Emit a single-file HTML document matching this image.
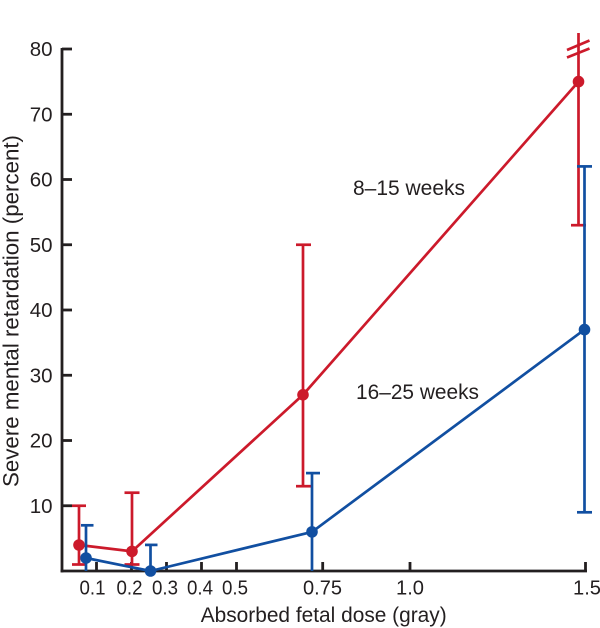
<!DOCTYPE html>
<html>
<head>
<meta charset="utf-8">
<style>
  html, body { margin: 0; padding: 0; background: #ffffff; }
  svg { display: block; }
  text { font-family: "Liberation Sans", Arial, sans-serif; fill: #231f20; }
</style>
</head>
<body>
<svg width="600" height="628" viewBox="0 0 600 628" xmlns="http://www.w3.org/2000/svg">
  <!-- Axes -->
  <g stroke="#231f20" stroke-width="2.8" fill="none" stroke-linecap="butt">
    <line x1="62" y1="48" x2="62" y2="572.4"/>
    <line x1="60.6" y1="571" x2="587" y2="571"/>
    <!-- y ticks -->
    <line x1="62" y1="49" x2="72" y2="49"/>
    <line x1="62" y1="114.25" x2="72" y2="114.25"/>
    <line x1="62" y1="179.5" x2="72" y2="179.5"/>
    <line x1="62" y1="244.75" x2="72" y2="244.75"/>
    <line x1="62" y1="310" x2="72" y2="310"/>
    <line x1="62" y1="375.25" x2="72" y2="375.25"/>
    <line x1="62" y1="440.5" x2="72" y2="440.5"/>
    <line x1="62" y1="505.75" x2="72" y2="505.75"/>
    <!-- x ticks -->
    <line x1="96.5" y1="571" x2="96.5" y2="562"/>
    <line x1="131.5" y1="571" x2="131.5" y2="562"/>
    <line x1="166.5" y1="571" x2="166.5" y2="562"/>
    <line x1="201.5" y1="571" x2="201.5" y2="562"/>
    <line x1="236.5" y1="571" x2="236.5" y2="562"/>
    <line x1="322.7" y1="571" x2="322.7" y2="562"/>
    <line x1="410" y1="571" x2="410" y2="562"/>
    <line x1="585.5" y1="572" x2="585.5" y2="562"/>
  </g>

  <!-- Y tick labels -->
  <g font-size="20.5" text-anchor="end">
    <text x="52.5" y="56">80</text>
    <text x="52.5" y="121.25">70</text>
    <text x="52.5" y="186.5">60</text>
    <text x="52.5" y="251.75">50</text>
    <text x="52.5" y="317">40</text>
    <text x="52.5" y="382.25">30</text>
    <text x="52.5" y="447.5">20</text>
    <text x="52.5" y="512.75">10</text>
  </g>

  <!-- X tick labels -->
  <g font-size="20.5" text-anchor="middle">
    <text x="92.5" y="594.5" textLength="26" lengthAdjust="spacingAndGlyphs">0.1</text>
    <text x="129.5" y="594.5" textLength="26" lengthAdjust="spacingAndGlyphs">0.2</text>
    <text x="165" y="594.5" textLength="26" lengthAdjust="spacingAndGlyphs">0.3</text>
    <text x="200" y="594.5" textLength="26" lengthAdjust="spacingAndGlyphs">0.4</text>
    <text x="235" y="594.5" textLength="26" lengthAdjust="spacingAndGlyphs">0.5</text>
    <text x="322.5" y="594.5" textLength="39" lengthAdjust="spacingAndGlyphs">0.75</text>
    <text x="410" y="594.5" textLength="28" lengthAdjust="spacingAndGlyphs">1.0</text>
    <text x="587" y="594.5" textLength="28" lengthAdjust="spacingAndGlyphs">1.5</text>
  </g>

  <!-- Axis titles -->
  <text x="200.7" y="622" font-size="21.5" textLength="246" lengthAdjust="spacingAndGlyphs">Absorbed fetal dose (gray)</text>
  <text transform="translate(18.5,487) rotate(-90)" x="0" y="0" font-size="22" textLength="352" lengthAdjust="spacingAndGlyphs">Severe mental retardation (percent)</text>

  <!-- Series labels -->
  <text x="353" y="195" font-size="21" textLength="112" lengthAdjust="spacingAndGlyphs">8–15 weeks</text>
  <text x="356" y="399" font-size="21" textLength="123" lengthAdjust="spacingAndGlyphs">16–25 weeks</text>

  <!-- Red series (8–15 weeks) -->
  <g stroke="#cc1a2b" stroke-width="2.7" fill="none">
    <line x1="79" y1="505.75" x2="79" y2="564.5"/>
    <line x1="72" y1="505.75" x2="86" y2="505.75"/>
    <line x1="72" y1="564.5" x2="86" y2="564.5"/>

    <line x1="132" y1="492.7" x2="132" y2="564.5"/>
    <line x1="124.5" y1="492.7" x2="139.5" y2="492.7"/>
    <line x1="124.5" y1="564.5" x2="139.5" y2="564.5"/>

    <line x1="303" y1="244.75" x2="303" y2="486.2"/>
    <line x1="296" y1="244.75" x2="311" y2="244.75"/>
    <line x1="296" y1="486.2" x2="311" y2="486.2"/>

    <line x1="578.5" y1="33" x2="578.5" y2="225.2"/>
    <line x1="571" y1="225.2" x2="586" y2="225.2"/>
    <line x1="567" y1="50" x2="589.5" y2="40.5"/>
    <line x1="567" y1="57.5" x2="589.5" y2="48.5"/>

    <polyline points="79,545 132,551.4 303,394.8 578.5,81.6" stroke-linejoin="round"/>
  </g>
  <g fill="#cc1a2b">
    <circle cx="79" cy="545" r="5.8"/>
    <circle cx="132" cy="551.4" r="5.8"/>
    <circle cx="303" cy="394.8" r="5.8"/>
    <circle cx="578.5" cy="81.6" r="5.8"/>
  </g>

  <!-- Blue series (16–25 weeks) -->
  <g stroke="#114fa1" stroke-width="2.7" fill="none">
    <line x1="86" y1="525.3" x2="86" y2="571"/>
    <line x1="81" y1="525.3" x2="93.5" y2="525.3"/>

    <line x1="150.5" y1="544.9" x2="150.5" y2="571"/>
    <line x1="145" y1="544.9" x2="157.5" y2="544.9"/>

    <line x1="312" y1="473.1" x2="312" y2="571"/>
    <line x1="306" y1="473.1" x2="320" y2="473.1"/>

    <line x1="584.5" y1="166.4" x2="584.5" y2="512.3"/>
    <line x1="577" y1="166.4" x2="592" y2="166.4"/>
    <line x1="577" y1="512.3" x2="592" y2="512.3"/>

    <polyline points="86,558 150.5,571 312,531.9 584.5,329.6" stroke-linejoin="round"/>
  </g>
  <g fill="#114fa1">
    <circle cx="86" cy="558" r="5.8"/>
    <circle cx="150.5" cy="571" r="5.8"/>
    <circle cx="312" cy="531.9" r="5.8"/>
    <circle cx="584.5" cy="329.6" r="5.8"/>
  </g>
</svg>
</body>
</html>
